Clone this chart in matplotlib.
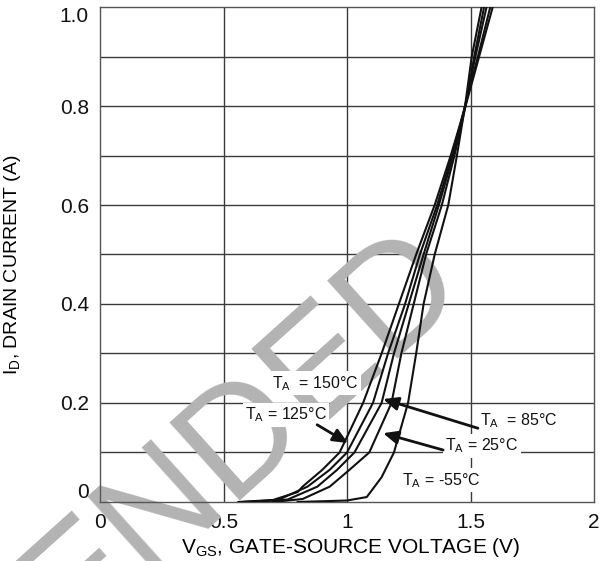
import matplotlib.pyplot as plt

# Transfer characteristics, read per ambient temperature
vgs_150 = [0.56, 0.70, 0.80, 0.82, 0.90, 0.97, 1.065, 1.14, 1.21, 1.28, 1.355, 1.42, 1.48, 1.535, 1.59]
id_150 = [0.0, 0.004, 0.02, 0.031, 0.065, 0.10, 0.20, 0.30, 0.40, 0.50, 0.60, 0.70, 0.80, 0.90, 1.0]

vgs_125 = [0.58, 0.72, 0.84, 0.93, 1.0, 1.105, 1.166, 1.235, 1.295, 1.365, 1.425, 1.478, 1.53, 1.58]
id_125 = [0.0, 0.004, 0.031, 0.065, 0.10, 0.20, 0.30, 0.40, 0.50, 0.60, 0.70, 0.80, 0.90, 1.0]

vgs_85 = [0.62, 0.76, 0.88, 0.96, 1.03, 1.14, 1.19, 1.25, 1.31, 1.372, 1.43, 1.478, 1.52, 1.565]
id_85 = [0.0, 0.005, 0.031, 0.065, 0.10, 0.20, 0.30, 0.40, 0.50, 0.60, 0.70, 0.80, 0.90, 1.0]

vgs_25 = [0.70, 0.82, 0.93, 1.01, 1.09, 1.18, 1.22, 1.27, 1.32, 1.384, 1.435, 1.48, 1.515, 1.555]
id_25 = [0.0, 0.006, 0.031, 0.065, 0.10, 0.20, 0.30, 0.40, 0.50, 0.60, 0.70, 0.80, 0.90, 1.0]

vgs_m55 = [0.80, 1.0, 1.08, 1.14, 1.19, 1.247, 1.28, 1.31, 1.355, 1.41, 1.445, 1.478, 1.505, 1.545]
id_m55 = [0.0, 0.003, 0.01, 0.05, 0.10, 0.20, 0.30, 0.40, 0.50, 0.60, 0.70, 0.80, 0.90, 1.0]

x_ticks = [0, 0.5, 1, 1.5, 2]
x_tick_labels = ['0', '0.5', '1', '1.5', '2']
y_ticks = [0, 0.2, 0.4, 0.6, 0.8, 1.0]
y_tick_labels = ['0', '0.2', '0.4', '0.6', '0.8', '1.0']

plt.rcParams['font.family'] = ['Liberation Sans', 'DejaVu Sans']

fig = plt.figure(figsize=(6, 5.61), dpi=100)
ax = fig.add_axes([0.1667, 0.1052, 0.8233, 0.8823])

ax.set_xlim(0, 2)
ax.set_ylim(0, 1.0)

# Faded stamp across the plot, above the grid but under the curves
ax.text(0.78, 0.494, 'ENDED', transform=fig.transFigure, fontsize=110,
        color='#b3b3b3', rotation=42, rotation_mode='anchor',
        ha='right', va='baseline', zorder=2, clip_on=False)

# Grid: every 0.5 V and every 0.1 A
for x in [0.5, 1.0, 1.5]:
    ax.axvline(x, color='#3a3a3a', lw=1.0, zorder=1)
for y in [0.1, 0.2, 0.3, 0.4, 0.5, 0.6, 0.7, 0.8, 0.9]:
    ax.axhline(y, color='#3a3a3a', lw=1.0, zorder=1)
for s in ax.spines.values():
    s.set_color('#555555')
    s.set_linewidth(1.0)

curves = [(vgs_150, id_150), (vgs_125, id_125), (vgs_85, id_85),
          (vgs_25, id_25), (vgs_m55, id_m55)]
for v, i in curves:
    ax.plot(v, i, color='#111111', lw=1.5, zorder=3)

ax.set_xticks(x_ticks)
ax.set_xticklabels(x_tick_labels)
ax.set_yticks(y_ticks)
ax.set_yticklabels(y_tick_labels)
ax.tick_params(length=0, labelsize=15, colors='#111111', pad=8)
ylabs = ax.get_yticklabels()
ylabs[0].set_va('bottom')
ylabs[-1].set_va('top')

ax.set_xlabel('V$_{\\mathregular{GS}}$, GATE-SOURCE VOLTAGE (V)', fontsize=15)
ax.set_ylabel('I$_{\\mathregular{D}}$, DRAIN CURRENT (A)', fontsize=14)
ax.xaxis.set_label_coords(0.508, -0.068)
ax.yaxis.set_label_coords(-0.156, 0.48)

box = dict(boxstyle='square,pad=0.15', fc='white', ec='none')
tk = dict(fontsize=11.5, color='#111111', bbox=box, zorder=5, va='center', ha='left')
arrow = dict(arrowstyle='-|>,head_length=0.9,head_width=0.4', color='#111111', lw=2.0,
             shrinkA=0, shrinkB=0)

ax.text(0.696, 0.24, 'T$_{\\mathregular{A}}$  = 150°C', **tk)
ax.text(0.587, 0.176, 'T$_{\\mathregular{A}}$ = 125°C', **tk)
ax.annotate('', xy=(1.004, 0.119), xytext=(0.879, 0.156), arrowprops=arrow, zorder=5)
ax.text(1.538, 0.164, 'T$_{\\mathregular{A}}$  = 85°C', **tk)
ax.annotate('', xy=(1.146, 0.208), xytext=(1.53, 0.149), arrowprops=arrow, zorder=5)
ax.text(1.397, 0.113, 'T$_{\\mathregular{A}}$ = 25°C', **tk)
ax.annotate('', xy=(1.146, 0.139), xytext=(1.389, 0.105), arrowprops=arrow, zorder=5)
ax.text(1.223, 0.044, 'T$_{\\mathregular{A}}$ = -55°C', **tk)

fig.savefig('out.png', dpi=100)
